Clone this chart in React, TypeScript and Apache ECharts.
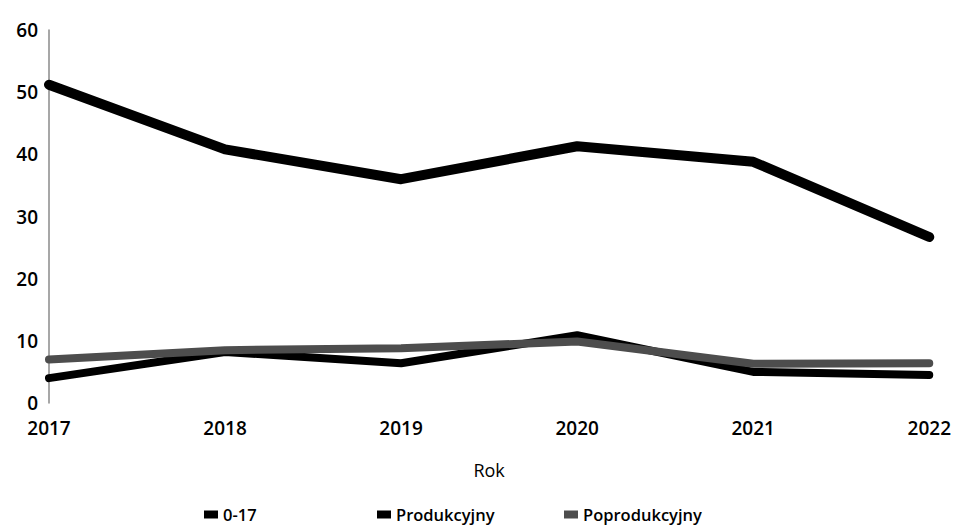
import React, { useEffect, useRef } from "react";
import * as echarts from "echarts";

const years = ["2017", "2018", "2019", "2020", "2021", "2022"];
const age0to17 = [4.0, 8.2, 6.4, 10.9, 5.0, 4.5];
const produkcyjny = [51.2, 40.8, 36.0, 41.3, 38.8, 26.7];
const poprodukcyjny = [7.0, 8.5, 8.8, 9.9, 6.3, 6.4];
const yTicks = [0, 10, 20, 30, 40, 50, 60];

export default function App() {
  const ref = useRef<HTMLDivElement>(null);
  useEffect(() => {
    if (!ref.current) return;
    const chart = echarts.init(ref.current, undefined, { renderer: "svg" });
    const font = "'Open Sans', 'Noto Sans', sans-serif";
    const legendBase = {
      top: 506,
      padding: 0,
      itemWidth: 14,
      itemHeight: 8,
      itemGap: 6,
      icon: "rect",
      textStyle: { fontFamily: font, fontSize: 16.5, fontWeight: 600, color: "#000" },
    };
    chart.setOption({
      animation: false,
      backgroundColor: "#fff",
      grid: { left: 49, right: 24, top: 30, bottom: 122 },
      legend: [
        { ...legendBase, left: 204, data: ["0-17"] },
        { ...legendBase, left: 377, data: ["Produkcyjny"] },
        { ...legendBase, left: 564, data: ["Poprodukcyjny"] },
      ],
      xAxis: {
        type: "category",
        data: years,
        boundaryGap: false,
        name: "Rok",
        nameLocation: "middle",
        nameGap: 58,
        nameTextStyle: { fontFamily: font, fontSize: 18, color: "#000" },
        axisLine: { show: false },
        axisTick: { show: false },
        splitLine: { show: false },
        axisLabel: {
          fontFamily: font,
          fontSize: 19,
          fontWeight: 600,
          color: "#000",
          margin: 15,
        },
      },
      yAxis: {
        type: "value",
        min: yTicks[0],
        max: yTicks[yTicks.length - 1],
        interval: 10,
        axisLine: { show: true, lineStyle: { color: "#8a8a8a", width: 1.5 } },
        axisTick: { show: false },
        splitLine: { show: false },
        axisLabel: {
          fontFamily: font,
          fontSize: 19,
          fontWeight: 600,
          color: "#000",
          margin: 11,
        },
      },
      series: [
        {
          name: "0-17",
          type: "line",
          data: age0to17,
          symbol: "none",
          color: "#000",
          lineStyle: { width: 8, color: "#000", cap: "round", join: "round" },
          z: 3,
        },
        {
          name: "Produkcyjny",
          type: "line",
          data: produkcyjny,
          symbol: "none",
          color: "#000",
          lineStyle: { width: 10, color: "#000", cap: "round", join: "round" },
          z: 3,
        },
        {
          name: "Poprodukcyjny",
          type: "line",
          data: poprodukcyjny,
          symbol: "none",
          color: "#4d4d4d",
          lineStyle: { width: 8, color: "#4d4d4d", cap: "round", join: "round" },
          z: 4,
        },
      ],
    });
    return () => chart.dispose();
  }, []);
  return <div ref={ref} style={{ width: 954, height: 525, position: "absolute", left: 0, top: 0 }} />;
}
